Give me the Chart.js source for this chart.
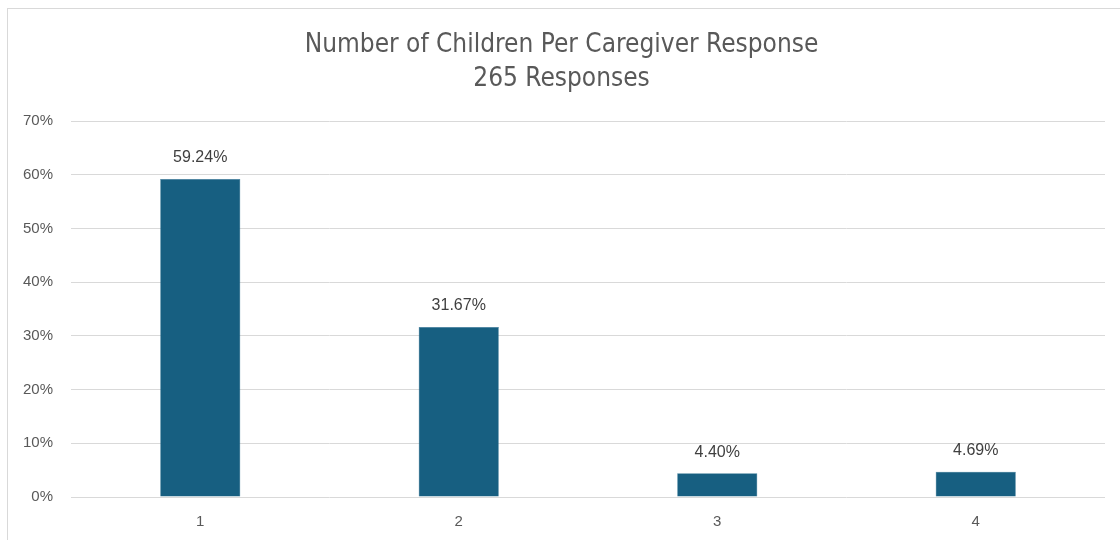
<!DOCTYPE html>
<html><head><meta charset="utf-8">
<script src="https://cdn.jsdelivr.net/npm/chart.js@4.4.0/dist/chart.umd.min.js"></script>
<style>
html,body{margin:0;padding:0;background:#fff;overflow:hidden}
#wrap{position:relative;width:1120px;height:540px}
#frame{position:absolute;left:7px;top:8px;width:1130px;height:560px;border:1px solid #d9d9d9;box-sizing:border-box}
canvas{position:absolute;left:0;top:0}
</style></head><body>
<div id="wrap"><div id="frame"></div><canvas id="c" width="1120" height="540"></canvas></div>
<script>
const titleLines = ['Number of Children Per Caregiver Response', '265 Responses'];
const categories = ['1', '2', '3', '4'];
const values = [59.24, 31.67, 4.40, 4.69];
const yTicks = [0, 10, 20, 30, 40, 50, 60, 70];

const labelPlugin = {
  id: 'valLabels',
  afterDatasetsDraw(chart) {
    const ctx = chart.ctx;
    const meta = chart.getDatasetMeta(0);
    ctx.save();
    ctx.font = '16px "Liberation Sans", Arial, sans-serif';
    ctx.fillStyle = '#404040';
    ctx.textAlign = 'center';
    ctx.textBaseline = 'middle';
    meta.data.forEach((bar, i) => {
      ctx.fillText(values[i].toFixed(2) + '%', bar.x, bar.y - 21);
    });
    ctx.restore();
  }
};

new Chart(document.getElementById('c'), {
  type: 'bar',
  data: {
    labels: categories,
    datasets: [{
      data: values,
      backgroundColor: '#175f81',
      borderColor: '#2a6f8f',
      borderWidth: 0.5,
      barPercentage: 0.62,
      categoryPercentage: 0.5
    }]
  },
  options: {
    responsive: false,
    animation: false,
    devicePixelRatio: 1,
    layout: { padding: { left: 18, right: 15, top: 0, bottom: 0 } },
    plugins: {
      legend: { display: false },
      tooltip: { enabled: false },
      title: {
        display: true,
        text: titleLines,
        color: '#595959',
        font: { family: '"Liberation Sans Narrow", "DejaVu Sans Condensed", Roboto, sans-serif', size: 26, weight: 'normal', lineHeight: 1.31 },
        padding: { top: 28, bottom: 25 }
      }
    },
    scales: {
      x: {
        grid: { display: false, drawTicks: false },
        border: { display: false },
        ticks: { color: '#595959', font: { family: '"Liberation Sans", Arial, sans-serif', size: 15 }, padding: 16 },
        afterFit(s) { s.height = 43; }
      },
      y: {
        min: 0, max: 70,
        afterBuildTicks(s) { s.ticks = yTicks.map(v => ({ value: v })); },
        grid: { color: '#d9d9d9', lineWidth: 1, drawTicks: false },
        border: { display: false },
        ticks: { color: '#595959', font: { family: '"Liberation Sans", Arial, sans-serif', size: 15 }, padding: 18, callback: v => v + '%' },
        afterFit(s) { s.width = 53; }
      }
    }
  },
  plugins: [labelPlugin]
});
</script>
</body></html>
